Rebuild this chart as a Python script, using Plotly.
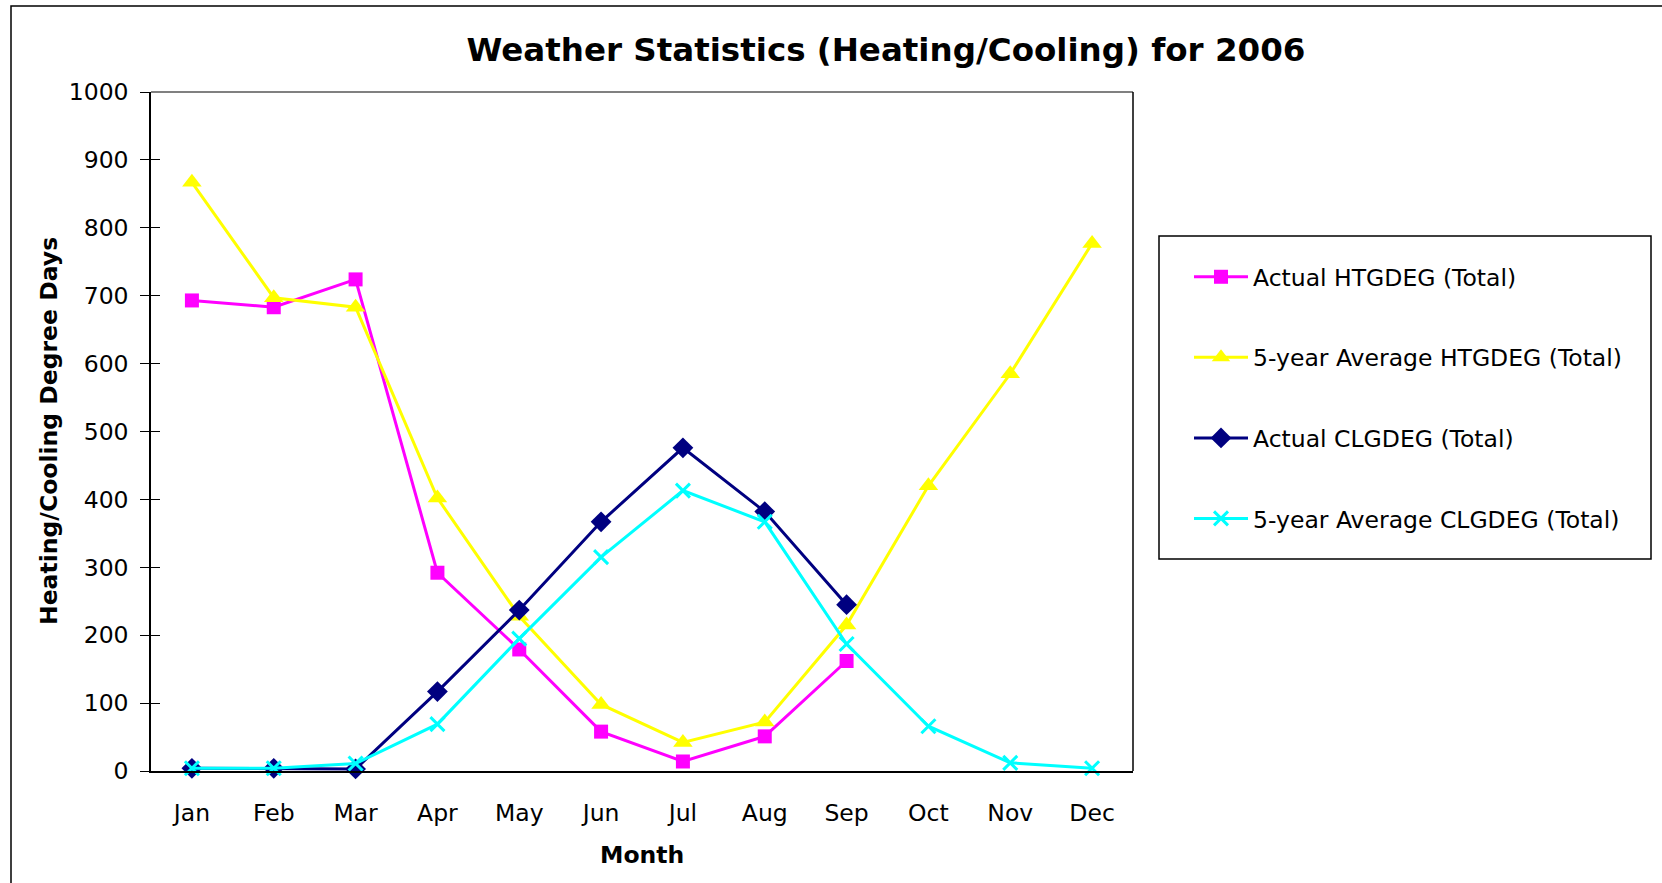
import plotly.graph_objects as go

months = ["Jan", "Feb", "Mar", "Apr", "May", "Jun", "Jul", "Aug", "Sep", "Oct", "Nov", "Dec"]
actual_htg = [693, 683, 724, 292, 179, 58, 14, 51, 162, None, None, None]
avg_htg = [867, 697, 683, 402, 228, 98, 42, 72, 215, 420, 585, 777]
actual_clg = [4, 4, 3, 117, 237, 367, 476, 382, 245, None, None, None]
avg_clg = [4, 4, 11, 69, 195, 315, 413, 367, 187, 66, 12, 4]
y_ticks = [0, 100, 200, 300, 400, 500, 600, 700, 800, 900, 1000]

FONT = "Tahoma, DejaVu Sans, sans-serif"
W, H = 1662, 883
L, R, T, B = 151, 1133, 92, 771

fig = go.Figure()
series = [
    ("Actual HTGDEG (Total)", actual_htg, "#FF00FF", dict(symbol="square", size=14)),
    ("5-year Average HTGDEG (Total)", avg_htg, "#FFFF00", dict(symbol="triangle-up", size=17)),
    ("Actual CLGDEG (Total)", actual_clg, "#000080", dict(symbol="diamond", size=16)),
    ("5-year Average CLGDEG (Total)", avg_clg, "#00FFFF", dict(symbol="x-thin", size=14,
                                                             line=dict(width=3, color="#00FFFF"))),
]
for i, (name, vals, col, mk) in enumerate(series):
    m = dict(color=col, **mk)
    fig.add_trace(go.Scatter(
        x=months, y=vals, name=name, mode="lines+markers",
        line=dict(color=col, width=3), marker=m,
        legendgroup=f"g{i}", cliponaxis=False,
    ))

px = lambda x: (x - L) / (R - L)
py = lambda y: (B - y) / (B - T)

fig.update_layout(
    width=W, height=H,
    paper_bgcolor="white", plot_bgcolor="white",
    margin=dict(l=L, r=W - R, t=T, b=H - B, pad=0),
    font=dict(family=FONT, size=23.5, color="black"),
    title=dict(text="<b>Weather Statistics (Heating/Cooling) for 2006</b>",
               font=dict(family=FONT, size=32.5, color="black"),
               x=886 / W, xref="container", xanchor="center",
               y=1 - 50 / H, yref="container", yanchor="middle"),
    showlegend=True,
    legend=dict(
        x=px(1189), xanchor="left",
        y=py(255), yanchor="top",
        borderwidth=0, bgcolor="rgba(0,0,0,0)",
        font=dict(family=FONT, size=23.5, color="black"),
        tracegroupgap=47, traceorder="grouped",
        itemwidth=54,
    ),
    xaxis=dict(
        type="category", range=[-0.5, 11.5], showgrid=False, zeroline=False,
        showline=True, linecolor="black", linewidth=1.5, ticks="", ticklabelstandoff=20,
        tickfont=dict(family=FONT, size=23.5, color="black"),
    ),
    yaxis=dict(
        range=[0, 1000], tickvals=y_ticks, showgrid=False, zeroline=False,
        showline=True, linecolor="black", linewidth=1.5,
        ticks="outside", ticklen=9, tickcolor="black", tickwidth=1,
        ticklabelstandoff=7,
        tickfont=dict(family=FONT, size=23.5, color="black"),
    ),
    yaxis2=dict(
        range=[0, 1000], tickvals=y_ticks, overlaying="y", side="left",
        showgrid=False, zeroline=False, showline=False, showticklabels=False,
        ticks="inside", ticklen=9, tickcolor="black", tickwidth=1,
    ),
)

# invisible trace to activate yaxis2
fig.add_trace(go.Scatter(x=[months[0]], y=[None], yaxis="y2", showlegend=False, hoverinfo="skip"))

shapes = [
    # plot-area border top (gray) and right (black)
    dict(type="line", xref="paper", yref="paper", x0=0, x1=1, y0=1, y1=1,
         line=dict(color="#808080", width=2)),
    dict(type="line", xref="paper", yref="paper", x0=1, x1=1, y0=0, y1=1,
         line=dict(color="black", width=1.5)),
    # legend box
    dict(type="rect", xref="paper", yref="paper", x0=px(1159), x1=px(1651), y0=py(236), y1=py(559),
         line=dict(color="black", width=1.5), fillcolor="rgba(0,0,0,0)"),
    # outer chart border
    dict(type="rect", xref="paper", yref="paper", x0=px(11), x1=px(1670), y0=py(6), y1=py(900),
         line=dict(color="black", width=1.5), fillcolor="rgba(0,0,0,0)", layer="below"),
]
fig.update_layout(shapes=shapes)

fig.add_annotation(text="<b>Heating/Cooling Degree Days</b>", xref="paper", yref="paper",
                   x=px(49), y=py(431), textangle=-90, showarrow=False,
                   font=dict(family=FONT, size=23.5, color="black"),
                   xanchor="center", yanchor="middle")
fig.add_annotation(text="<b>Month</b>", xref="paper", yref="paper",
                   x=px(642), y=py(855), showarrow=False,
                   font=dict(family=FONT, size=23.5, color="black"),
                   xanchor="center", yanchor="middle")

fig.write_html("out.html", config={"displayModeBar": False},
               post_script="document.body.style.margin='0px';document.body.style.overflow='hidden';")
